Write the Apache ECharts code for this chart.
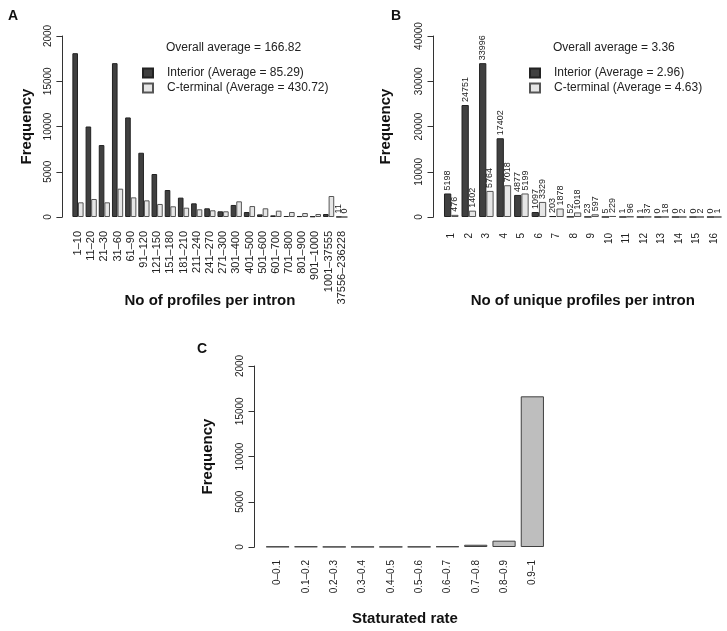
<!DOCTYPE html>
<html>
<head>
<meta charset="utf-8">
<script src="https://cdn.jsdelivr.net/npm/echarts@6/dist/echarts.min.js"></script>
<style>
  html, body { margin: 0; padding: 0; background: #fff; }
  #chart { width: 727px; height: 631px; }
</style>
</head>
<body>
<div id="chart"></div>
<script>
// panel A: profiles per intron
var categoriesA = ['1–10', '11–20', '21–30', '31–60', '61–90', '91–120', '121–150', '151–180',
  '181–210', '211–240', '241–270', '271–300', '301–400', '401–500', '501–600', '601–700',
  '701–800', '801–900', '901–1000', '1001–37555', '37556–236228'];
var interiorA = [18100, 10000, 7950, 17000, 11000, 7100, 4750, 2980, 2140, 1510, 960, 630,
  1330, 550, 290, 180, 110, 100, 70, 330, 11];
var cterminalA = [1620, 1990, 1620, 3130, 2170, 1840, 1440, 1180, 1030, 850, 740, 630,
  1730, 1210, 960, 700, 550, 440, 330, 2320, 0];
var yTicksA = ['0', '5000', '10000', '15000', '2000'];

// panel B: unique profiles per intron
var categoriesB = ['1', '2', '3', '4', '5', '6', '7', '8', '9', '10', '11', '12', '13', '14', '15', '16'];
var interiorB = [5198, 24751, 33996, 17402, 4877, 1097, 203, 52, 23, 5, 1, 1, 0, 0, 0, 0];
var cterminalB = [476, 1402, 5764, 7018, 5199, 3329, 1878, 1018, 597, 229, 96, 37, 18, 2, 2, 1];
var yTicksB = ['0', '10000', '20000', '30000', '40000'];

// panel C: saturated rate
var categoriesC = ['0–0.1', '0.1–0.2', '0.2–0.3', '0.3–0.4', '0.4–0.5', '0.5–0.6', '0.6–0.7',
  '0.7–0.8', '0.8–0.9', '0.9–1'];
var rateC = [40, 50, 20, 20, 20, 30, 60, 250, 700, 16650];
var yTicksC = ['0', '5000', '10000', '15000', '2000'];

var FONT = 'Liberation Sans, Arial, sans-serif';
var DARK = '#404040', LIGHT = '#e6e6e6', MID = '#bebebe';

function yAxis(idx, max, step, ticks, gap) {
  return {
    type: 'value', gridIndex: idx, min: 0, max: max, interval: step, offset: 9,
    splitLine: { show: false },
    axisLine: { show: true, lineStyle: { color: '#333' } },
    axisTick: { show: true, length: 6, lineStyle: { color: '#333' } },
    axisLabel: { rotate: 90, fontSize: 10, margin: 9, color: '#222', fontFamily: FONT,
      formatter: function (v, i) { return ticks[i]; } },
    name: 'Frequency', nameLocation: 'middle', nameGap: gap, nameRotate: 90, nameMoveOverlap: false,
    nameTextStyle: { fontSize: 15, fontWeight: 'bold', color: '#111', fontFamily: FONT }
  };
}
function xAxis(idx, cats, name, margin, gap, fs) {
  return {
    type: 'category', gridIndex: idx, data: cats,
    axisLine: { show: false }, axisTick: { show: false },
    axisLabel: { rotate: 90, interval: 0, fontSize: fs, margin: margin, color: '#222', fontFamily: FONT },
    name: name, nameLocation: 'middle', nameGap: gap, nameMoveOverlap: false,
    nameTextStyle: { fontSize: 15, fontWeight: 'bold', color: '#111', fontFamily: FONT }
  };
}

var barLabel = { show: true, position: 'top', rotate: 90, align: 'left', verticalAlign: 'middle',
  distance: 3, fontSize: 9, color: '#222', fontFamily: FONT };

// only the last group of panel A is annotated
var lastA = categoriesA.length - 1;
var interiorAData = interiorA.map(function (v, i) {
  return i === lastA ? { value: v, label: barLabel } : v;
});
var cterminalAData = cterminalA.map(function (v, i) {
  return i === lastA ? { value: v, label: barLabel } : v;
});

var nameA1 = 'Interior (Average = 85.29)', nameA2 = 'C-terminal (Average = 430.72)';
var nameB1 = 'Interior (Average = 2.96)', nameB2 = 'C-terminal (Average = 4.63)';

function legend(names, left) {
  return {
    data: names, left: left, top: 62, orient: 'vertical', icon: 'rect',
    itemWidth: 10, itemHeight: 9, itemGap: 3,
    textStyle: { fontSize: 12, color: '#222', fontFamily: FONT, padding: [0, 0, 0, 9] }
  };
}

var option = {
  animation: false,
  grid: [
    { left: 71.4, top: 36, width: 277, height: 181 },
    { left: 442.5, top: 36, width: 280.5, height: 181 },
    { left: 263.5, top: 366, width: 283, height: 181 }
  ],
  xAxis: [
    xAxis(0, categoriesA, 'No of profiles per intron', 14, 76, 11),
    xAxis(1, categoriesB, 'No of unique profiles per intron', 16, 76, 10),
    xAxis(2, categoriesC, 'Staturated rate', 13, 64, 10)
  ],
  yAxis: [
    yAxis(0, 20000, 5000, yTicksA, 28),
    yAxis(1, 40000, 10000, yTicksB, 40),
    yAxis(2, 20000, 5000, yTicksC, 39)
  ],
  legend: [legend([nameA1, nameA2], 137), legend([nameB1, nameB2], 524)],
  series: [
    { name: nameA1, type: 'bar', xAxisIndex: 0, yAxisIndex: 0, data: interiorAData,
      barGap: '0%', barCategoryGap: '15%',
      itemStyle: { color: DARK, borderColor: '#222', borderWidth: 1 } },
    { name: nameA2, type: 'bar', xAxisIndex: 0, yAxisIndex: 0, data: cterminalAData,
      itemStyle: { color: LIGHT, borderColor: '#555', borderWidth: 1 } },
    { name: nameB1, type: 'bar', xAxisIndex: 1, yAxisIndex: 1, data: interiorB,
      barGap: '0%', barCategoryGap: '17%', label: barLabel,
      itemStyle: { color: DARK, borderColor: '#222', borderWidth: 1 } },
    { name: nameB2, type: 'bar', xAxisIndex: 1, yAxisIndex: 1, data: cterminalB, label: barLabel,
      itemStyle: { color: LIGHT, borderColor: '#555', borderWidth: 1 } },
    { name: 'rate', type: 'bar', xAxisIndex: 2, yAxisIndex: 2, data: rateC,
      barCategoryGap: '18%',
      itemStyle: { color: MID, borderColor: '#404040', borderWidth: 1 } }
  ],
  graphic: [
    { type: 'text', x: 8, y: 9, style: { text: 'A', fontSize: 14, fontWeight: 'bold', fill: '#111', fontFamily: FONT } },
    { type: 'text', x: 391, y: 9, style: { text: 'B', fontSize: 14, fontWeight: 'bold', fill: '#111', fontFamily: FONT } },
    { type: 'text', x: 197, y: 342, style: { text: 'C', fontSize: 14, fontWeight: 'bold', fill: '#111', fontFamily: FONT } },
    { type: 'text', x: 166, y: 48, style: { text: 'Overall average = 166.82', fontSize: 12, fill: '#222',
      fontFamily: FONT, verticalAlign: 'middle' } },
    { type: 'text', x: 553, y: 48, style: { text: 'Overall average = 3.36', fontSize: 12, fill: '#222',
      fontFamily: FONT, verticalAlign: 'middle' } }
  ]
};

var myChart = echarts.init(document.getElementById('chart'));
myChart.setOption(option);
</script>
</body>
</html>
